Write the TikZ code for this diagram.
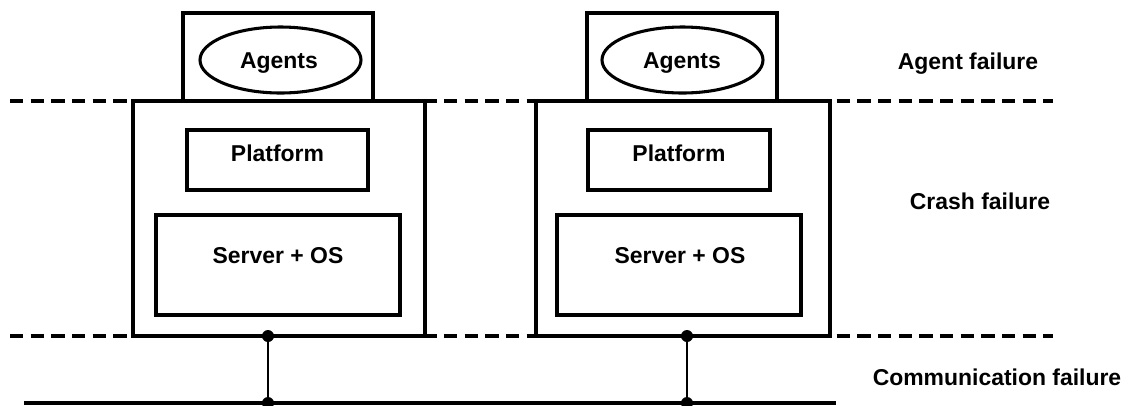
\documentclass[tikz,border=0pt]{standalone}
\usepackage{fontspec}
\setmainfont{Liberation Sans}
\usetikzlibrary{shapes.geometric}
\begin{document}
\begin{tikzpicture}[x=0.75pt,y=-0.75pt,
  box/.style={draw,line width=3pt,fill=white,rectangle,inner sep=0pt},
  agentshape/.style={draw,line width=2.3pt,ellipse,inner sep=0pt},
  lbl/.style={font=\bfseries\fontsize{17.2}{20}\selectfont,anchor=base,inner sep=0pt},
  level/.style={line width=2.6pt,dash pattern=on 10pt off 5.5pt},
  bus/.style={line width=3pt},
  stem/.style={line width=1.9pt},
  joint/.style={circle,fill=black,inner sep=0pt,minimum size=9pt}]
\useasboundingbox (0,0) rectangle (1133,405);

% failure levels
\coordinate (lvA0) at (10,101);  \coordinate (lvA1) at (1053,101);
\coordinate (lvB0) at (10,336);  \coordinate (lvB1) at (1053,336);
\draw[level] (lvA0) -- (lvA1);
\draw[level] (lvB0) -- (lvB1);

% left host
\node[box,minimum width=190pt*0.75,minimum height=88pt*0.75] (agboxL) at (278,57) {};
\node[agentshape,minimum width=161pt*0.75,minimum height=66pt*0.75] (agL) at (280.5,60) {};
\node[lbl] (agtL) at (279,68) {Agents};
\node[box,minimum width=292pt*0.75,minimum height=235pt*0.75] (hostL) at (279,218.5) {};
\node[box,minimum width=181pt*0.75,minimum height=60pt*0.75] (platL) at (277.5,160) {};
\node[lbl] (plattL) at (277.5,161) {Platform};
\node[box,minimum width=244pt*0.75,minimum height=100pt*0.75] (srvL) at (278,265) {};
\node[lbl] (srvtL) at (278,263) {Server + OS};

% right host
\node[box,minimum width=190pt*0.75,minimum height=88pt*0.75] (agboxR) at (682,57) {};
\node[agentshape,minimum width=161pt*0.75,minimum height=66pt*0.75] (agR) at (682.5,60) {};
\node[lbl] (agtR) at (682,68) {Agents};
\node[box,minimum width=294pt*0.75,minimum height=235pt*0.75] (hostR) at (683,218.5) {};
\node[box,minimum width=182pt*0.75,minimum height=60pt*0.75] (platR) at (679,160) {};
\node[lbl] (plattR) at (679,161) {Platform};
\node[box,minimum width=244pt*0.75,minimum height=100pt*0.75] (srvR) at (679,265) {};
\node[lbl] (srvtR) at (680,263) {Server + OS};

% network bus
\coordinate (bus0) at (24,403);
\coordinate (bus1) at (836,403);
\draw[bus] (bus0) -- (bus1);
\node[joint] (jL) at (268,336) {};
\node[joint] (jR) at (687,336) {};
\node[joint] (bL) at (268,403) {};
\node[joint] (bR) at (687,403) {};
\draw[stem] (jL) -- (bL);
\draw[stem] (jR) -- (bR);

% level labels
\node[lbl] (fa) at (968,69) {Agent failure};
\node[lbl] (fc) at (980,209) {Crash failure};
\node[lbl] (fm) at (997,385) {Communication failure};
\end{tikzpicture}
\end{document}
